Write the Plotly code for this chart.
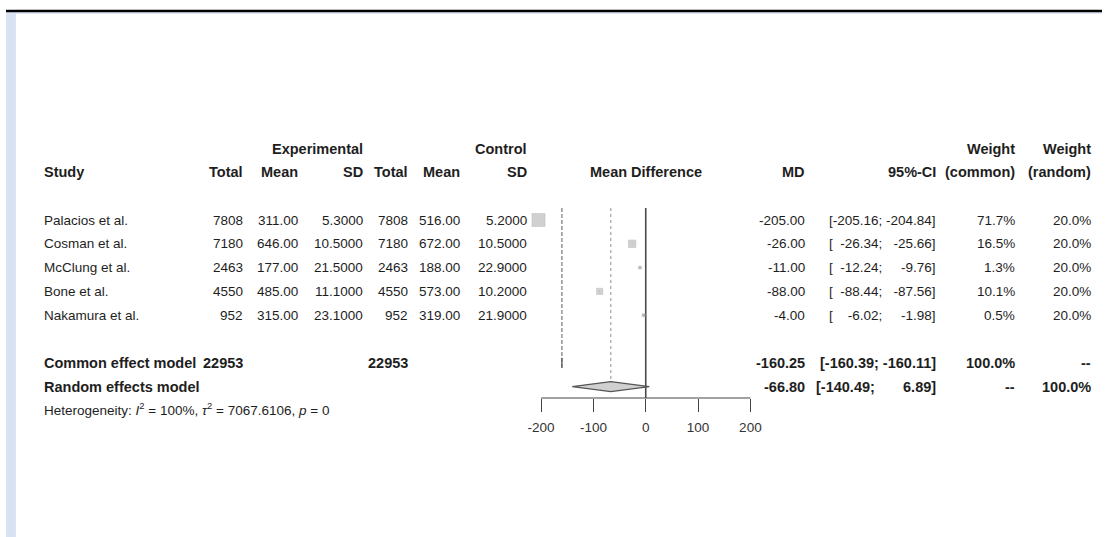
import plotly.graph_objects as go

# ---------------- data ----------------
studies = ["Palacios et al.", "Cosman et al.", "McClung et al.", "Bone et al.", "Nakamura et al."]
n_exp = [7808, 7180, 2463, 4550, 952]
mean_exp = [311.00, 646.00, 177.00, 485.00, 315.00]
sd_exp = [5.3000, 10.5000, 21.5000, 11.1000, 23.1000]
n_ctrl = [7808, 7180, 2463, 4550, 952]
mean_ctrl = [516.00, 672.00, 188.00, 573.00, 319.00]
sd_ctrl = [5.2000, 10.5000, 22.9000, 10.2000, 21.9000]
md = [-205.00, -26.00, -11.00, -88.00, -4.00]
ci_lo = [-205.16, -26.34, -12.24, -88.44, -6.02]
ci_hi = [-204.84, -25.66, -9.76, -87.56, -1.98]
w_common = [71.7, 16.5, 1.3, 10.1, 0.5]
w_random = [20.0, 20.0, 20.0, 20.0, 20.0]

models = ["Common effect model", "Random effects model"]
model_n_exp = [22953, None]
model_n_ctrl = [22953, None]
model_md = [-160.25, -66.80]
model_lo = [-160.39, -140.49]
model_hi = [-160.11, 6.89]
model_w_common = ["100.0%", "--"]
model_w_random = ["--", "100.0%"]

het_i2 = "100%"
het_tau2 = "7067.6106"
het_p = "0"

tick_vals = [-200, -100, 0, 100, 200]
tick_text = ["-200", "-100", "0", "100", "200"]

# ---------------- layout helpers ----------------
W, H = 1105, 537
ROW0_PX, ROW_H = 220.0, 23.8      # pixel centre of first study row, row height
PLOT_TOP_PX, AXIS_PX = 208.0, 398.0
ZERO_PX, PX_PER_UNIT = 645.0, 211.0 / 400.0
XPAD = 215.0                      # visible data range half-width (markers beyond +/-200)


def row_of(px):
    return (px - ROW0_PX) / ROW_H


def row_paper(r):
    return 1 - (ROW0_PX + ROW_H * r) / H


def px_x(px):
    return px / W


FONT = "Liberation Sans, Arial, sans-serif"
FS_BOLD = 14.5
FS_REG = 13.5
TXT = "#1e1e1e"
FSP = "\u2007"

fig = go.Figure()

# decorations: top rule + left strip
fig.add_shape(type="rect", xref="paper", yref="paper", x0=0, x1=1, y0=1 - 14 / H, y1=1 - 12 / H,
              fillcolor="#e2eaf6", line_width=0, layer="below")
fig.add_shape(type="line", xref="paper", yref="paper", x0=0, x1=1, y0=1 - 11 / H, y1=1 - 11 / H,
              line=dict(color="#000000", width=2.5))
fig.add_shape(type="rect", xref="paper", yref="paper", x0=0, x1=10 / W, y0=0, y1=1 - 13 / H,
              fillcolor="#d8e2f2", line_width=0, layer="below")

# x-axis line only between first and last tick
fig.add_shape(type="line", xref="x", yref="paper", x0=tick_vals[0], x1=tick_vals[-1],
              y0=1 - AXIS_PX / H, y1=1 - AXIS_PX / H, line=dict(color="#444444", width=1.2))

n_st = len(studies)
study_rows = list(range(n_st))
model_rows = [n_st + 1, n_st + 2]
top_r = row_of(PLOT_TOP_PX)
bot_r = row_of(AXIS_PX)

# reference line at 0
fig.add_trace(go.Scatter(x=[0, 0], y=[top_r, bot_r], mode="lines",
                         line=dict(color="#4a4a4a", width=1.6), hoverinfo="skip", showlegend=False))
# common effect line (dashed) and random effects line (dotted)
fig.add_trace(go.Scatter(x=[model_md[0], model_md[0]], y=[top_r, model_rows[0] + 0.3], mode="lines",
                         line=dict(color="#808080", width=1.3, dash="4px,2px"), hoverinfo="skip",
                         showlegend=False))
fig.add_trace(go.Scatter(x=[model_md[1], model_md[1]], y=[top_r, model_rows[1] - 0.2], mode="lines",
                         line=dict(color="#a0a0a0", width=1.2, dash="dot"), hoverinfo="skip", showlegend=False))

# study CIs
for i in range(n_st):
    fig.add_trace(go.Scatter(x=[ci_lo[i], ci_hi[i]], y=[study_rows[i], study_rows[i]], mode="lines",
                             line=dict(color="#333333", width=1), hoverinfo="skip", showlegend=False))

# study squares sized by common weight
sizes = [max(3, 13.0 * (w / max(w_common)) ** 0.38) for w in w_common]
fig.add_trace(go.Scatter(x=md, y=study_rows, mode="markers", cliponaxis=False,
                         marker=dict(symbol="square", size=sizes, color="#bdbdbd",
                                     line=dict(color="#a8a8a8", width=0.6)),
                         hoverinfo="skip", showlegend=False))

# diamonds
for k in range(2):
    r = model_rows[k]
    hh = 0.21
    fig.add_trace(go.Scatter(x=[model_lo[k], model_md[k], model_hi[k], model_md[k], model_lo[k]],
                             y=[r, r - hh, r, r + hh, r], mode="lines", fill="toself",
                             fillcolor="#d0d0d0", line=dict(color="#555555", width=1.2),
                             hoverinfo="skip", showlegend=False))

# ---------------- text table ----------------
ann = []


def txt(x_px, r, s, anchor="right", bold=False, size=None, color=TXT):
    if size is None:
        size = FS_BOLD if bold else FS_REG
    ann.append(dict(xref="paper", yref="paper", x=px_x(x_px), y=row_paper(r),
                    text=(f"<b>{s}</b>" if bold else s),
                    xanchor=anchor, yanchor="middle", showarrow=False,
                    font=dict(family=FONT, size=size, color=color)))


COL = dict(study=36, ne=241, me=296, se=362, nc=407, mc=460, sc=527, mdh=645,
           md=808, ci=940, wc=1019, wr=1096)

h1, h2 = -3, -2
txt(COL["se"], h1, "Experimental", bold=True)
txt(COL["sc"], h1, "Control", bold=True)
txt(COL["wc"], h1, "Weight", bold=True)
txt(COL["wr"], h1, "Weight", bold=True)
txt(COL["study"], h2, "Study", anchor="left", bold=True)
txt(COL["ne"], h2, "Total", bold=True)
txt(COL["me"], h2, "Mean", bold=True)
txt(COL["se"], h2, "SD", bold=True)
txt(COL["nc"], h2, "Total", bold=True)
txt(COL["mc"], h2, "Mean", bold=True)
txt(COL["sc"], h2, "SD", bold=True)
txt(COL["mdh"], h2, "Mean Difference", anchor="center", bold=True)
txt(COL["md"], h2, "MD", bold=True)
txt(COL["ci"], h2, "95%-CI", bold=True)
txt(COL["wc"], h2, "(common)", bold=True)
txt(COL["wr"], h2, "(random)", bold=True)


def ci_str(lo, hi):
    return "[" + f"{lo:7.2f}".replace(" ", FSP) + "; " + f"{hi:7.2f}".replace(" ", FSP) + "]"


for i in range(n_st):
    r = study_rows[i]
    txt(COL["study"], r, studies[i], anchor="left")
    txt(COL["ne"], r, f"{n_exp[i]}")
    txt(COL["me"], r, f"{mean_exp[i]:.2f}")
    txt(COL["se"], r, f"{sd_exp[i]:.4f}")
    txt(COL["nc"], r, f"{n_ctrl[i]}")
    txt(COL["mc"], r, f"{mean_ctrl[i]:.2f}")
    txt(COL["sc"], r, f"{sd_ctrl[i]:.4f}")
    txt(COL["md"], r, f"{md[i]:.2f}")
    txt(COL["ci"], r, ci_str(ci_lo[i], ci_hi[i]))
    txt(COL["wc"], r, f"{w_common[i]:.1f}%")
    txt(COL["wr"], r, f"{w_random[i]:.1f}%")

for k in range(2):
    r = model_rows[k]
    txt(COL["study"], r, models[k], anchor="left", bold=True)
    if model_n_exp[k] is not None:
        txt(COL["ne"], r, f"{model_n_exp[k]}", bold=True)
    if model_n_ctrl[k] is not None:
        txt(COL["nc"], r, f"{model_n_ctrl[k]}", bold=True)
    txt(COL["md"], r, f"{model_md[k]:.2f}", bold=True)
    txt(COL["ci"], r, ci_str(model_lo[k], model_hi[k]), bold=True)
    txt(COL["wc"], r, model_w_common[k], bold=True)
    txt(COL["wr"], r, model_w_random[k], bold=True)

txt(COL["study"], model_rows[1] + 0.95,
    f"Heterogeneity: <i>I</i><sup>2</sup> = {het_i2}, <i>τ</i><sup>2</sup> = {het_tau2}, <i>p</i> = {het_p}",
    anchor="left", size=13.5)

fig.update_layout(
    width=W, height=H, margin=dict(l=0, r=0, t=0, b=0),
    paper_bgcolor="white", plot_bgcolor="rgba(0,0,0,0)",
    annotations=ann, showlegend=False,
    xaxis=dict(domain=[(ZERO_PX - XPAD * PX_PER_UNIT) / W, (ZERO_PX + XPAD * PX_PER_UNIT) / W],
               range=[-XPAD, XPAD], tickvals=tick_vals, ticktext=tick_text,
               ticks="outside", ticklen=13, tickwidth=1.2, tickcolor="#444444",
               showline=False, showgrid=False, zeroline=False, ticklabelstandoff=4,
               tickfont=dict(family=FONT, size=FS_REG, color="#333333"), fixedrange=True),
    yaxis=dict(domain=[(H - AXIS_PX) / H, (H - PLOT_TOP_PX) / H], range=[bot_r, top_r],
               visible=False, fixedrange=True),
)

fig.write_html("out.html", config={"displayModeBar": False},
               post_script="document.body.style.margin='0';document.body.style.overflow='hidden';")
